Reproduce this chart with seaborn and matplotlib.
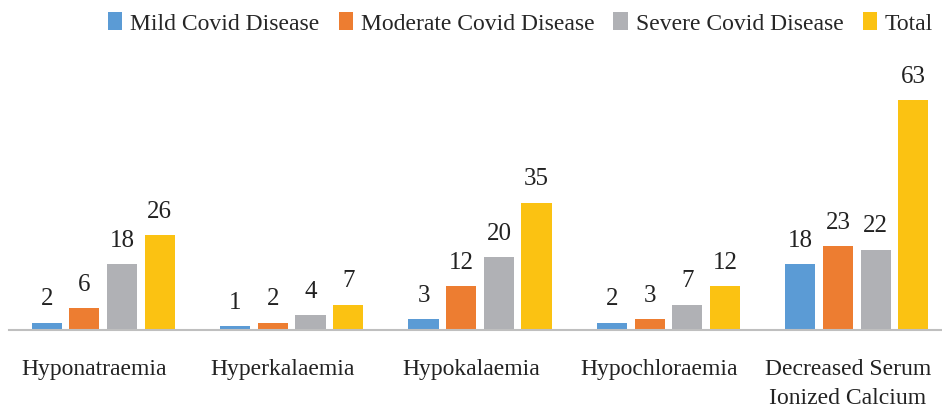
import numpy as np
import pandas as pd
import seaborn as sns
import matplotlib.pyplot as plt
import matplotlib.transforms as mtransforms

# data
categories = ["Hyponatraemia", "Hyperkalaemia", "Hypokalaemia", "Hypochloraemia",
              "Decreased Serum\nIonized Calcium"]
mild = [2, 1, 3, 2, 18]
moderate = [6, 2, 12, 3, 23]
severe = [18, 4, 20, 7, 22]
total = [26, 7, 35, 12, 63]
series = ["Mild Covid Disease", "Moderate Covid Disease", "Severe Covid Disease", "Total"]
palette = ["#5B9BD5", "#ED7D31", "#B0B1B5", "#FBC212"]

df = pd.DataFrame({"category": categories, series[0]: mild, series[1]: moderate,
                   series[2]: severe, series[3]: total})
df = df.melt(id_vars="category", var_name="group", value_name="count")

sns.set_style("white")
plt.rcParams["font.family"] = ["Liberation Serif", "DejaVu Serif"]

fig = plt.figure(figsize=(9.42, 4.05), dpi=100)
ax = fig.add_axes([0.0096, 0.185, 1.0, 0.63])

sns.barplot(data=df, x="category", y="count", hue="group", hue_order=series,
            palette=palette, width=0.8, linewidth=0, saturation=1, ax=ax)

# thin the bars so a white gap shows between them
for p in ax.patches:
    w = p.get_width()
    p.set_x(p.get_x() + w * 0.1)
    p.set_width(w * 0.8)

for cont in ax.containers:
    ax.bar_label(cont, padding=9, fontsize=18, color="#222222")

ax.set_ylim(0, 70)
ax.set_xlim(-0.5, 4.5)
ax.set_xlabel("")
ax.set_ylabel("")
ax.set_yticks([])
for s in ["top", "right", "left"]:
    ax.spines[s].set_visible(False)
ax.spines["bottom"].set_color("#BFBFBF")
ax.spines["bottom"].set_linewidth(1.5)
ax.tick_params(axis="x", length=0, pad=21, labelsize=17, colors="#222222")
ax.set_xticks(range(len(categories)))
ax.set_xticklabels(categories, linespacing=1.5)
shift = mtransforms.ScaledTranslation(-9 / 100, 0, fig.dpi_scale_trans)
for lab in ax.get_xticklabels():
    lab.set_transform(lab.get_transform() + shift)
    lab.set_verticalalignment("top")

ax.legend(loc="upper left", bbox_to_anchor=(0.105, 1.245), ncol=4, frameon=False,
          fontsize=17, handlelength=0.6, handleheight=0.8, handletextpad=0.35,
          columnspacing=0.8, borderaxespad=0, borderpad=0)

fig.savefig("out.png", dpi=100)
